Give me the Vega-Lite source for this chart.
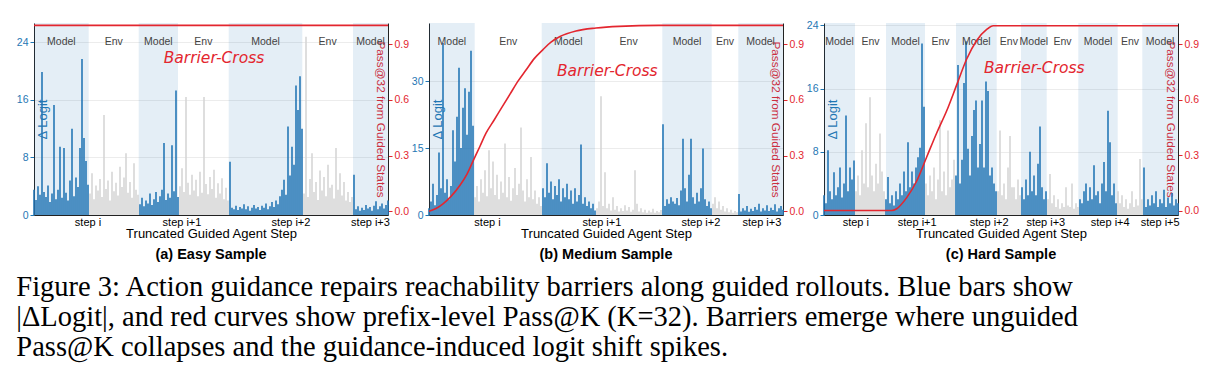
{
"$schema":"https://vega.github.io/schema/vega-lite/v6.json",
"padding":{"left":16,"top":20,"right":5,"bottom":5},
"bounds":"flush",
"spacing":41,
"title":{"text":["Figure 3: Action guidance repairs reachability barriers along guided rollouts. Blue bars show","|ΔLogit|, and red curves show prefix-level Pass@K (K=32). Barriers emerge where unguided","Pass@K collapses and the guidance-induced logit shift spikes."],"orient":"bottom","anchor":"start","frame":"bounds","font":"Liberation Serif","fontSize":28.5,"fontWeight":"normal","lineHeight":30,"offset":11,"color":"#000"},
"datasets":{
"aR":[{"s":0,"e":54.7,"k":"Model"},{"s":54.7,"e":104.7,"k":"Env"},{"s":104.7,"e":144,"k":"Model"},{"s":144,"e":194.7,"k":"Env"},{"s":194.7,"e":268.3,"k":"Model"},{"s":268.3,"e":319,"k":"Env"},{"s":319,"e":354,"k":"Model"}],
"bR":[{"s":0,"e":45.7,"k":"Model"},{"s":45.7,"e":112.7,"k":"Env"},{"s":112.7,"e":166,"k":"Model"},{"s":166,"e":233.3,"k":"Env"},{"s":233.3,"e":282.7,"k":"Model"},{"s":282.7,"e":309.3,"k":"Env"},{"s":309.3,"e":354,"k":"Model"}],
"cR":[{"s":0,"e":31,"k":"Model"},{"s":31,"e":62,"k":"Env"},{"s":62,"e":101,"k":"Model"},{"s":101,"e":132,"k":"Env"},{"s":132,"e":172.7,"k":"Model"},{"s":172.7,"e":197,"k":"Env"},{"s":197,"e":222.7,"k":"Model"},{"s":222.7,"e":254.3,"k":"Env"},{"s":254.3,"e":293.7,"k":"Model"},{"s":293.7,"e":318.3,"k":"Env"},{"s":318.3,"e":354,"k":"Model"}],
"aP":[{"t":0,"p":1},{"t":354,"p":1}],
"bP":[{"t":0,"p":0},{"t":7,"p":0.015},{"t":14,"p":0.04},{"t":22,"p":0.08},{"t":31,"p":0.14},{"t":38,"p":0.2},{"t":44,"p":0.27},{"t":51,"p":0.35},{"t":57,"p":0.42},{"t":65,"p":0.49},{"t":73,"p":0.56},{"t":81,"p":0.63},{"t":89,"p":0.7},{"t":97,"p":0.76},{"t":105,"p":0.82},{"t":114,"p":0.87},{"t":122,"p":0.91},{"t":131,"p":0.94},{"t":147,"p":0.97},{"t":167,"p":0.986},{"t":190,"p":0.995},{"t":230,"p":1},{"t":354,"p":1}],
"cP":[{"t":0,"p":0},{"t":67.7,"p":0},{"t":72.7,"p":0.01},{"t":82.7,"p":0.07},{"t":92.7,"p":0.16},{"t":102.7,"p":0.29},{"t":112.7,"p":0.42},{"t":122.7,"p":0.54},{"t":132.7,"p":0.68},{"t":142.7,"p":0.82},{"t":152.7,"p":0.92},{"t":162.7,"p":0.98},{"t":169.3,"p":1},{"t":354,"p":1}],
"aB":[{"t":0,"v":3.5},{"t":2,"v":2.1},{"t":4,"v":4.0},{"t":6,"v":2.8},{"t":8,"v":19.9},{"t":10,"v":3.2},{"t":12,"v":2.5},{"t":14,"v":4.1},{"t":16,"v":1.8},{"t":18,"v":3.0},{"t":20,"v":15.3},{"t":22,"v":2.2},{"t":24,"v":3.5},{"t":26,"v":9.5},{"t":28,"v":2.4},{"t":30,"v":9.3},{"t":32,"v":3.1},{"t":34,"v":2.0},{"t":36,"v":4.8},{"t":38,"v":12.0},{"t":40,"v":2.6},{"t":42,"v":5.2},{"t":44,"v":3.9},{"t":46,"v":9.3},{"t":48,"v":21.7},{"t":50,"v":10.7},{"t":52,"v":7.5},{"t":54,"v":4.2},
{"t":56,"v":3.0},{"t":58,"v":5.8},{"t":60,"v":2.2},{"t":62,"v":4.1},{"t":64,"v":3.4},{"t":66,"v":5.0},{"t":68,"v":2.5},{"t":70,"v":13.9},{"t":72,"v":3.6},{"t":74,"v":4.8},{"t":76,"v":2.0},{"t":78,"v":6.0},{"t":80,"v":3.3},{"t":82,"v":4.5},{"t":84,"v":2.7},{"t":86,"v":6.7},{"t":88,"v":3.9},{"t":90,"v":5.2},{"t":92,"v":8.6},{"t":94,"v":3.1},{"t":96,"v":4.6},{"t":98,"v":2.4},{"t":100,"v":7.2},{"t":102,"v":3.5},{"t":104,"v":2.8},
{"t":106,"v":1.5},{"t":108,"v":2.4},{"t":110,"v":1.2},{"t":112,"v":2.0},{"t":114,"v":1.6},{"t":116,"v":3.0},{"t":118,"v":1.4},{"t":120,"v":2.2},{"t":122,"v":3.2},{"t":124,"v":1.8},{"t":126,"v":2.6},{"t":128,"v":3.5},{"t":130,"v":10.0},{"t":132,"v":2.1},{"t":134,"v":3.0},{"t":136,"v":2.4},{"t":138,"v":9.7},{"t":140,"v":3.3},{"t":142,"v":17.3},{"t":144,"v":2.5},
{"t":146,"v":4.0},{"t":148,"v":6.5},{"t":150,"v":3.2},{"t":152,"v":16.4},{"t":154,"v":4.5},{"t":156,"v":2.8},{"t":158,"v":5.6},{"t":160,"v":3.4},{"t":162,"v":4.9},{"t":164,"v":2.6},{"t":166,"v":6.0},{"t":168,"v":3.1},{"t":170,"v":16.4},{"t":172,"v":4.3},{"t":174,"v":2.9},{"t":176,"v":5.3},{"t":178,"v":3.6},{"t":180,"v":6.3},{"t":182,"v":2.4},{"t":184,"v":4.4},{"t":186,"v":3.0},{"t":188,"v":5.1},{"t":190,"v":2.2},{"t":192,"v":3.8},{"t":194,"v":2.0},
{"t":196,"v":7.4},{"t":198,"v":1.0},{"t":200,"v":0.8},{"t":202,"v":1.3},{"t":204,"v":0.7},{"t":206,"v":1.1},{"t":208,"v":0.9},{"t":210,"v":1.5},{"t":212,"v":0.8},{"t":214,"v":1.2},{"t":216,"v":0.6},{"t":218,"v":1.0},{"t":220,"v":1.4},{"t":222,"v":0.9},{"t":224,"v":1.1},{"t":226,"v":0.7},{"t":228,"v":1.3},{"t":230,"v":1.0},{"t":232,"v":1.6},{"t":234,"v":0.8},{"t":236,"v":1.2},{"t":238,"v":1.8},{"t":240,"v":1.1},{"t":242,"v":2.0},{"t":244,"v":1.5},{"t":246,"v":2.6},{"t":248,"v":3.5},{"t":250,"v":4.9},{"t":252,"v":2.8},{"t":254,"v":12.3},{"t":256,"v":5.5},{"t":258,"v":9.5},{"t":260,"v":7.0},{"t":262,"v":18.0},{"t":264,"v":14.6},{"t":266,"v":19.3},{"t":268,"v":12.0},
{"t":270,"v":3.0},{"t":272,"v":24.8},{"t":274,"v":2.5},{"t":276,"v":5.0},{"t":278,"v":8.6},{"t":280,"v":3.2},{"t":282,"v":4.6},{"t":284,"v":2.1},{"t":286,"v":6.2},{"t":288,"v":3.4},{"t":290,"v":5.3},{"t":292,"v":2.6},{"t":294,"v":7.0},{"t":296,"v":3.8},{"t":298,"v":4.2},{"t":300,"v":2.3},{"t":302,"v":9.3},{"t":304,"v":3.5},{"t":306,"v":5.8},{"t":308,"v":2.7},{"t":310,"v":4.6},{"t":312,"v":2.0},{"t":314,"v":3.2},{"t":316,"v":1.8},{"t":318,"v":2.5},
{"t":320,"v":5.6},{"t":322,"v":0.8},{"t":324,"v":1.2},{"t":326,"v":0.6},{"t":328,"v":1.0},{"t":330,"v":0.7},{"t":332,"v":1.4},{"t":334,"v":0.9},{"t":336,"v":1.1},{"t":338,"v":0.6},{"t":340,"v":1.3},{"t":342,"v":1.9},{"t":344,"v":0.8},{"t":346,"v":1.2},{"t":348,"v":1.6},{"t":350,"v":0.9},{"t":352,"v":1.4},{"t":354,"v":2.0}],
"bB":[{"t":0,"v":1.5},{"t":2,"v":3.0},{"t":4,"v":7.0},{"t":6,"v":2.2},{"t":8,"v":4.5},{"t":10,"v":14.0},{"t":12,"v":6.0},{"t":14,"v":38.5},{"t":16,"v":5.0},{"t":18,"v":8.0},{"t":20,"v":3.5},{"t":22,"v":6.5},{"t":24,"v":19.0},{"t":26,"v":12.0},{"t":28,"v":22.0},{"t":30,"v":33.0},{"t":32,"v":15.0},{"t":34,"v":24.0},{"t":36,"v":28.4},{"t":38,"v":18.0},{"t":40,"v":27.6},{"t":42,"v":36.8},{"t":44,"v":20.0},
{"t":46,"v":4.0},{"t":48,"v":6.5},{"t":50,"v":3.0},{"t":52,"v":8.0},{"t":54,"v":5.0},{"t":56,"v":10.0},{"t":58,"v":4.2},{"t":60,"v":14.5},{"t":62,"v":6.0},{"t":64,"v":12.0},{"t":66,"v":4.5},{"t":68,"v":9.0},{"t":70,"v":3.5},{"t":72,"v":7.5},{"t":74,"v":5.0},{"t":76,"v":16.0},{"t":78,"v":4.0},{"t":80,"v":8.5},{"t":82,"v":3.2},{"t":84,"v":6.0},{"t":86,"v":10.5},{"t":88,"v":4.5},{"t":90,"v":7.0},{"t":92,"v":19.6},{"t":94,"v":5.5},{"t":96,"v":3.0},{"t":98,"v":8.0},{"t":100,"v":4.0},{"t":102,"v":13.0},{"t":104,"v":3.5},{"t":106,"v":5.5},{"t":108,"v":2.5},{"t":110,"v":4.0},{"t":112,"v":2.0},
{"t":114,"v":6.0},{"t":116,"v":4.0},{"t":118,"v":11.6},{"t":120,"v":5.0},{"t":122,"v":7.5},{"t":124,"v":3.5},{"t":126,"v":6.5},{"t":128,"v":4.5},{"t":130,"v":8.0},{"t":132,"v":3.0},{"t":134,"v":6.0},{"t":136,"v":4.0},{"t":138,"v":7.0},{"t":140,"v":3.5},{"t":142,"v":5.5},{"t":144,"v":2.5},{"t":146,"v":6.0},{"t":148,"v":3.0},{"t":150,"v":4.5},{"t":152,"v":15.8},{"t":154,"v":2.5},{"t":156,"v":4.0},{"t":158,"v":2.0},{"t":160,"v":3.0},{"t":162,"v":1.5},{"t":164,"v":2.5},{"t":166,"v":1.0},
{"t":168,"v":1.5},{"t":170,"v":3.0},{"t":172,"v":26.6},{"t":174,"v":2.0},{"t":176,"v":9.6},{"t":178,"v":1.5},{"t":180,"v":2.5},{"t":182,"v":1.0},{"t":184,"v":4.0},{"t":186,"v":1.2},{"t":188,"v":2.0},{"t":190,"v":0.8},{"t":192,"v":1.5},{"t":194,"v":0.9},{"t":196,"v":2.2},{"t":198,"v":1.0},{"t":200,"v":1.8},{"t":202,"v":0.7},{"t":204,"v":1.2},{"t":206,"v":10.0},{"t":208,"v":2.5},{"t":210,"v":0.8},{"t":212,"v":1.5},{"t":214,"v":0.6},{"t":216,"v":1.2},{"t":218,"v":0.5},{"t":220,"v":1.0},{"t":222,"v":0.6},{"t":224,"v":1.4},{"t":226,"v":0.5},{"t":228,"v":0.9},{"t":230,"v":0.6},{"t":232,"v":1.1},
{"t":234,"v":20.3},{"t":236,"v":2.0},{"t":238,"v":3.5},{"t":240,"v":2.5},{"t":242,"v":4.0},{"t":244,"v":3.0},{"t":246,"v":2.5},{"t":248,"v":3.8},{"t":250,"v":2.2},{"t":252,"v":5.5},{"t":254,"v":17.1},{"t":256,"v":6.0},{"t":258,"v":3.0},{"t":260,"v":9.0},{"t":262,"v":17.1},{"t":264,"v":4.0},{"t":266,"v":2.5},{"t":268,"v":5.0},{"t":270,"v":3.0},{"t":272,"v":6.0},{"t":274,"v":14.9},{"t":276,"v":3.5},{"t":278,"v":2.0},{"t":280,"v":3.0},{"t":282,"v":1.5},
{"t":284,"v":2.5},{"t":286,"v":4.0},{"t":288,"v":1.5},{"t":290,"v":3.0},{"t":292,"v":1.2},{"t":294,"v":2.0},{"t":296,"v":0.8},{"t":298,"v":1.5},{"t":300,"v":0.6},{"t":302,"v":1.2},{"t":304,"v":0.5},{"t":306,"v":0.9},{"t":308,"v":0.6},
{"t":310,"v":4.7},{"t":312,"v":0.8},{"t":314,"v":1.5},{"t":316,"v":1.0},{"t":318,"v":2.0},{"t":320,"v":0.7},{"t":322,"v":1.4},{"t":324,"v":0.9},{"t":326,"v":1.8},{"t":328,"v":1.2},{"t":330,"v":2.5},{"t":332,"v":0.8},{"t":334,"v":1.5},{"t":336,"v":1.0},{"t":338,"v":2.2},{"t":340,"v":0.9},{"t":342,"v":1.6},{"t":344,"v":1.1},{"t":346,"v":2.4},{"t":348,"v":0.8},{"t":350,"v":1.5},{"t":352,"v":2.0},{"t":354,"v":1.2}],
"cB":[{"t":0,"v":2.5},{"t":2,"v":1.5},{"t":4,"v":8.2},{"t":6,"v":3.0},{"t":8,"v":2.0},{"t":10,"v":5.4},{"t":12,"v":2.5},{"t":14,"v":3.5},{"t":16,"v":6.0},{"t":18,"v":2.2},{"t":20,"v":4.0},{"t":22,"v":12.6},{"t":24,"v":3.0},{"t":26,"v":6.0},{"t":28,"v":4.5},{"t":30,"v":6.9},
{"t":32,"v":3.0},{"t":34,"v":5.0},{"t":36,"v":2.5},{"t":38,"v":8.2},{"t":40,"v":4.0},{"t":42,"v":11.6},{"t":44,"v":3.5},{"t":46,"v":14.9},{"t":48,"v":5.0},{"t":50,"v":3.0},{"t":52,"v":6.5},{"t":54,"v":4.0},{"t":56,"v":10.3},{"t":58,"v":5.5},{"t":60,"v":3.0},
{"t":62,"v":2.0},{"t":64,"v":4.8},{"t":66,"v":1.5},{"t":68,"v":2.5},{"t":70,"v":1.2},{"t":72,"v":3.0},{"t":74,"v":2.0},{"t":76,"v":4.0},{"t":78,"v":2.5},{"t":80,"v":5.5},{"t":82,"v":3.0},{"t":84,"v":9.2},{"t":86,"v":3.5},{"t":88,"v":5.5},{"t":90,"v":4.0},{"t":92,"v":6.0},{"t":94,"v":7.3},{"t":96,"v":8.5},{"t":98,"v":21.7},{"t":100,"v":13.7},
{"t":102,"v":4.0},{"t":104,"v":2.5},{"t":106,"v":5.0},{"t":108,"v":3.0},{"t":110,"v":6.0},{"t":112,"v":2.0},{"t":114,"v":4.5},{"t":116,"v":12.0},{"t":118,"v":3.0},{"t":120,"v":5.5},{"t":122,"v":2.5},{"t":124,"v":10.7},{"t":126,"v":3.5},{"t":128,"v":4.5},{"t":130,"v":7.0},
{"t":132,"v":5.0},{"t":134,"v":19.0},{"t":136,"v":4.0},{"t":138,"v":7.0},{"t":140,"v":16.7},{"t":142,"v":22.0},{"t":144,"v":8.4},{"t":146,"v":5.0},{"t":148,"v":10.0},{"t":150,"v":13.3},{"t":152,"v":14.5},{"t":154,"v":6.0},{"t":156,"v":9.0},{"t":158,"v":14.5},{"t":160,"v":6.0},{"t":162,"v":16.9},{"t":164,"v":15.7},{"t":166,"v":5.0},{"t":168,"v":6.0},{"t":170,"v":4.0},{"t":172,"v":3.0},
{"t":174,"v":3.0},{"t":176,"v":10.7},{"t":178,"v":2.5},{"t":180,"v":4.0},{"t":182,"v":2.0},{"t":184,"v":6.0},{"t":186,"v":10.0},{"t":188,"v":3.5},{"t":190,"v":3.5},{"t":192,"v":2.0},{"t":194,"v":4.5},{"t":196,"v":2.5},
{"t":198,"v":3.5},{"t":200,"v":2.0},{"t":202,"v":4.5},{"t":204,"v":2.5},{"t":206,"v":8.0},{"t":208,"v":3.0},{"t":210,"v":5.0},{"t":212,"v":2.5},{"t":214,"v":6.5},{"t":216,"v":11.2},{"t":218,"v":3.5},{"t":220,"v":2.0},{"t":222,"v":3.0},
{"t":224,"v":2.0},{"t":226,"v":5.2},{"t":228,"v":1.5},{"t":230,"v":2.5},{"t":232,"v":1.0},{"t":234,"v":2.0},{"t":236,"v":0.8},{"t":238,"v":1.5},{"t":240,"v":1.0},{"t":242,"v":3.5},{"t":244,"v":1.2},{"t":246,"v":1.0},{"t":248,"v":4.0},{"t":250,"v":0.8},{"t":252,"v":1.5},{"t":254,"v":1.0},
{"t":256,"v":2.0},{"t":258,"v":1.5},{"t":260,"v":3.0},{"t":262,"v":4.0},{"t":264,"v":1.8},{"t":266,"v":3.5},{"t":268,"v":2.0},{"t":270,"v":6.3},{"t":272,"v":2.5},{"t":274,"v":3.0},{"t":276,"v":1.5},{"t":278,"v":4.0},{"t":280,"v":6.7},{"t":282,"v":3.0},{"t":284,"v":13.2},{"t":286,"v":9.2},{"t":288,"v":2.5},{"t":290,"v":4.0},{"t":292,"v":1.5},
{"t":294,"v":3.0},{"t":296,"v":1.5},{"t":298,"v":2.5},{"t":300,"v":1.0},{"t":302,"v":2.0},{"t":304,"v":0.8},{"t":306,"v":1.5},{"t":308,"v":3.0},{"t":310,"v":1.0},{"t":312,"v":2.0},{"t":314,"v":1.2},{"t":316,"v":7.1},{"t":318,"v":2.0},
{"t":320,"v":6.0},{"t":322,"v":1.0},{"t":324,"v":2.0},{"t":326,"v":1.2},{"t":328,"v":2.5},{"t":330,"v":1.5},{"t":332,"v":3.0},{"t":334,"v":1.0},{"t":336,"v":2.0},{"t":338,"v":1.5},{"t":340,"v":3.2},{"t":342,"v":1.0},{"t":344,"v":2.2},{"t":346,"v":1.5},{"t":348,"v":2.8},{"t":350,"v":1.2},{"t":352,"v":2.0},{"t":354,"v":1.5}]
},
"hconcat":[
{"width":354,"height":192,"title":{"text":"(a) Easy Sample"},
"layer":[
{"layer":[
{"data":{"name":"aR"},"transform":[{"filter":"datum.k=='Model'"}],"mark":{"type":"rect","color":"#1f77b4","opacity":0.12},
"encoding":{"x":{"field":"s","type":"quantitative","scale":{"domain":[0,354],"nice":false,"zero":false},"title":"Truncated Guided Agent Step","axis":{"values":[53.5,147.5,256.5,336],"labelExpr":"['step i','step i+1','step i+2','step i+3'][indexof([53.5,147.5,256.5,336],datum.value)]"}},"x2":{"field":"e"}}},
{"data":{"name":"aB"},"mark":{"type":"rule","strokeWidth":1.6},
"encoding":{"x":{"field":"t","type":"quantitative","title":"Truncated Guided Agent Step"},"y":{"field":"v","type":"quantitative","scale":{"domain":[0,26.7],"nice":false},"axis":{"values":[0,8,16,24],"title":"Δ Logit"}},"y2":{"datum":0},
"color":{"condition":{"test":"datum.t<54.7||(datum.t>104.7&&datum.t<144.5)||(datum.t>194.7&&datum.t<268.3)||datum.t>319","value":"#2577b6"},"value":"#d6d6d6"}}},
{"data":{"name":"aR"},"transform":[{"calculate":"(datum.s+datum.e)/2","as":"m"}],"mark":{"type":"text","fontSize":10.5,"color":"#444"},
"encoding":{"x":{"field":"m","type":"quantitative","title":"Truncated Guided Agent Step"},"y":{"datum":24},"text":{"field":"k"}}},
{"data":{"values":[{}]},"mark":{"type":"text","text":"Barrier-Cross","fontSize":15.5,"fontStyle":"italic","font":"DejaVu Sans","color":"#e3262f"},
"encoding":{"x":{"datum":180},"y":{"datum":21.8}}}
]},
{"data":{"name":"aP"},"mark":{"type":"line","color":"#e3262f","strokeWidth":1.6},
"encoding":{"x":{"field":"t","type":"quantitative","title":"Truncated Guided Agent Step"},"y":{"field":"p","type":"quantitative","scale":{"domain":[-0.02,1.013],"nice":false,"zero":false},"axis":{"orient":"right","values":[0,0.3,0.6,0.9],"format":".1f","title":"Pass@32 from Guided States"}}}}
],
"resolve":{"scale":{"y":"independent"}}},
{"width":354,"height":192,"title":{"text":"(b) Medium Sample"},
"layer":[
{"layer":[
{"data":{"name":"bR"},"transform":[{"filter":"datum.k=='Model'"}],"mark":{"type":"rect","color":"#1f77b4","opacity":0.12},
"encoding":{"x":{"field":"s","type":"quantitative","scale":{"domain":[0,354],"nice":false,"zero":false},"title":"Truncated Guided Agent Step","axis":{"values":[58,172.4,271.4,332.4],"labelExpr":"['step i','step i+1','step i+2','step i+3'][indexof([58,172.4,271.4,332.4],datum.value)]"}},"x2":{"field":"e"}}},
{"data":{"name":"bB"},"mark":{"type":"rule","strokeWidth":1.6},
"encoding":{"x":{"field":"t","type":"quantitative","title":"Truncated Guided Agent Step"},"y":{"field":"v","type":"quantitative","scale":{"domain":[0,43],"nice":false},"axis":{"values":[0,15,30],"title":"Δ Logit"}},"y2":{"datum":0},
"color":{"condition":{"test":"datum.t<45.7||(datum.t>112.7&&datum.t<166.5)||(datum.t>233.3&&datum.t<282.7)||datum.t>309.3","value":"#2577b6"},"value":"#d6d6d6"}}},
{"data":{"name":"bR"},"transform":[{"calculate":"(datum.s+datum.e)/2","as":"m"}],"mark":{"type":"text","fontSize":10.5,"color":"#444"},
"encoding":{"x":{"field":"m","type":"quantitative","title":"Truncated Guided Agent Step"},"y":{"datum":38.7},"text":{"field":"k"}}},
{"data":{"values":[{}]},"mark":{"type":"text","text":"Barrier-Cross","fontSize":15.5,"fontStyle":"italic","font":"DejaVu Sans","color":"#e3262f"},
"encoding":{"x":{"datum":178.3},"y":{"datum":32.3}}}
]},
{"data":{"name":"bP"},"mark":{"type":"line","color":"#e3262f","strokeWidth":1.6,"interpolate":"monotone"},
"encoding":{"x":{"field":"t","type":"quantitative","title":"Truncated Guided Agent Step"},"y":{"field":"p","type":"quantitative","scale":{"domain":[-0.02,1.013],"nice":false,"zero":false},"axis":{"orient":"right","values":[0,0.3,0.6,0.9],"format":".1f","title":"Pass@32 from Guided States"}}}}
],
"resolve":{"scale":{"y":"independent"}}},
{"width":354,"height":192,"title":{"text":"(c) Hard Sample"},
"layer":[
{"layer":[
{"data":{"name":"cR"},"transform":[{"filter":"datum.k=='Model'"}],"mark":{"type":"rect","color":"#1f77b4","opacity":0.12},
"encoding":{"x":{"field":"s","type":"quantitative","scale":{"domain":[0,354],"nice":false,"zero":false},"title":"Truncated Guided Agent Step","axis":{"values":[31.3,92.7,164.7,221.3,285.7,335.7],"labelExpr":"['step i','step i+1','step i+2','step i+3','step i+4','step i+5'][indexof([31.3,92.7,164.7,221.3,285.7,335.7],datum.value)]"}},"x2":{"field":"e"}}},
{"data":{"name":"cB"},"mark":{"type":"rule","strokeWidth":1.6},
"encoding":{"x":{"field":"t","type":"quantitative","title":"Truncated Guided Agent Step"},"y":{"field":"v","type":"quantitative","scale":{"domain":[0,24.3],"nice":false},"axis":{"values":[0,8,16,24],"title":"Δ Logit"}},"y2":{"datum":0},
"color":{"condition":{"test":"datum.t<31||(datum.t>61.5&&datum.t<101)||(datum.t>131.5&&datum.t<172.7)||(datum.t>197&&datum.t<222.7)||(datum.t>254.3&&datum.t<293.7)||datum.t>318.3","value":"#2577b6"},"value":"#d6d6d6"}}},
{"data":{"name":"cR"},"transform":[{"calculate":"(datum.s+datum.e)/2","as":"m"}],"mark":{"type":"text","fontSize":10.5,"color":"#444"},
"encoding":{"x":{"field":"m","type":"quantitative","title":"Truncated Guided Agent Step"},"y":{"datum":21.9},"text":{"field":"k"}}},
{"data":{"values":[{}]},"mark":{"type":"text","text":"Barrier-Cross","fontSize":15.5,"fontStyle":"italic","font":"DejaVu Sans","color":"#e3262f"},
"encoding":{"x":{"datum":210.3},"y":{"datum":18.6}}}
]},
{"data":{"name":"cP"},"mark":{"type":"line","color":"#e3262f","strokeWidth":1.6,"interpolate":"monotone"},
"encoding":{"x":{"field":"t","type":"quantitative","title":"Truncated Guided Agent Step"},"y":{"field":"p","type":"quantitative","scale":{"domain":[-0.024,1.015],"nice":false,"zero":false},"axis":{"orient":"right","values":[0,0.3,0.6,0.9],"format":".1f","title":"Pass@32 from Guided States"}}}}
],
"resolve":{"scale":{"y":"independent"}}}
],
"config":{
"font":"Liberation Sans",
"view":{"stroke":null},
"axis":{"domainColor":"#222","labelFontSize":10.5,"titleFontWeight":"normal","grid":false,"labelColor":"#000","titleColor":"#000"},
"axisX":{"ticks":false,"labelFontSize":11,"titleFontSize":13,"labelPadding":1,"titlePadding":0,"labelFlush":false,"zindex":1},
"axisLeft":{"grid":true,"gridColor":"#ececec","tickColor":"#1f77b4","labelColor":"#1f77b4","titleColor":"#1f77b4","tickSize":4,"labelPadding":2,"titleFontSize":13,"titleAngle":270,"titleX":12,"titleY":96,"titleBaseline":"alphabetic","titleAlign":"center","zindex":0},
"axisRight":{"tickColor":"#e3262f","labelColor":"#e3262f","titleColor":"#e3262f","tickSize":4,"labelPadding":2,"titleFontSize":11.8,"titleAngle":90,"titleX":-12,"titleY":96,"titleBaseline":"alphabetic","titleAlign":"center","zindex":1},
"title":{"orient":"bottom","fontSize":14.5,"fontWeight":"bold","offset":8,"color":"#000"}
}
}
